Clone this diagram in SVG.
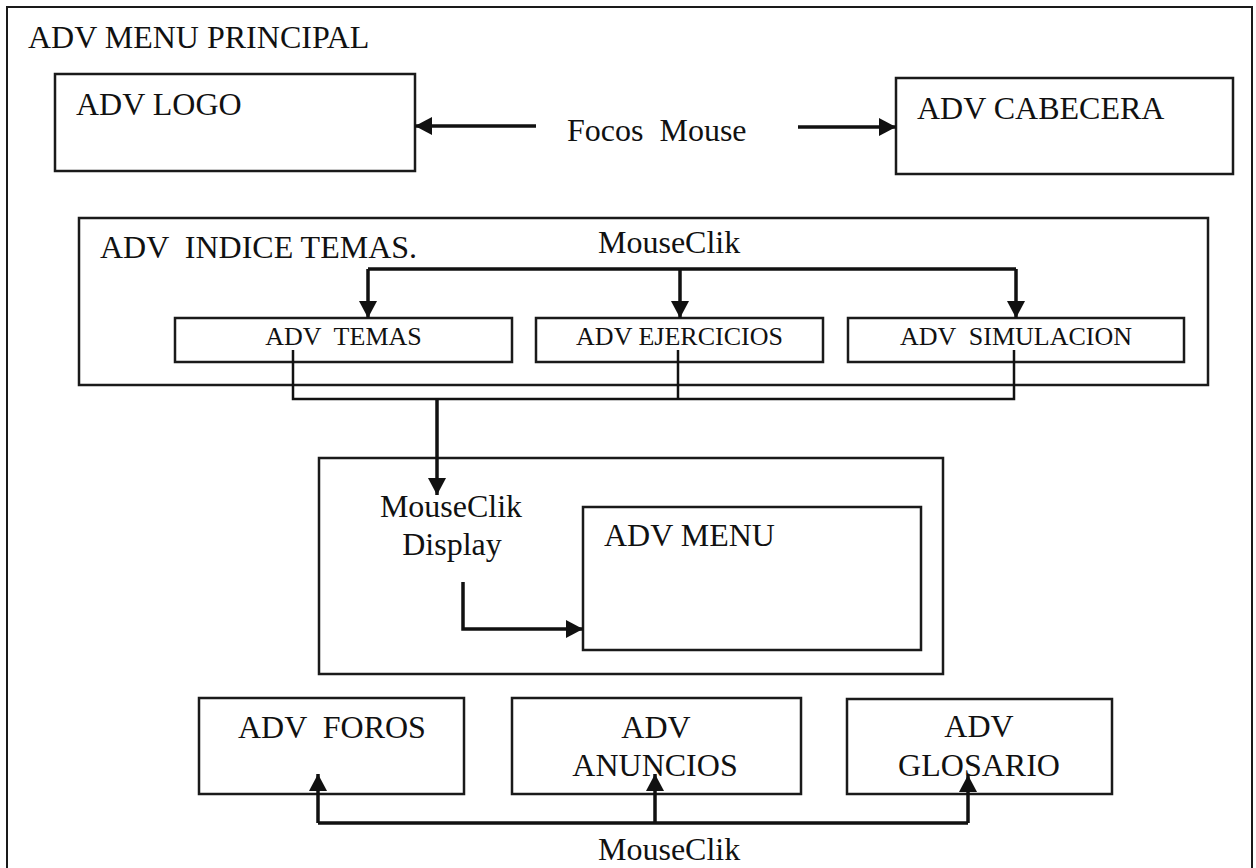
<svg xmlns="http://www.w3.org/2000/svg" width="1256" height="868" viewBox="0 0 1256 868">
  <style>
    .box { fill: none; stroke: #1a1a1a; stroke-width: 2.5; }
    .frame { fill: none; stroke: #1a1a1a; stroke-width: 2; }
    .lbl { font-family: "Liberation Serif", "Times New Roman", serif; font-size: 32px; fill: #111; white-space: pre; }
    .sub { font-family: "Liberation Serif", "Times New Roman", serif; font-size: 26px; fill: #111; white-space: pre; text-anchor: middle; }
    .mid { text-anchor: middle; }
    .wire { fill: none; stroke: #111; stroke-width: 3.5; }
    .thin { fill: none; stroke: #111; stroke-width: 2.5; }
    .arrow { fill: none; stroke: #111; stroke-width: 3.5; marker-end: url(#head); }
  </style>
  <defs>
    <marker id="head" markerUnits="userSpaceOnUse" markerWidth="18" markerHeight="18" refX="17" refY="9" orient="auto">
      <path d="M0,0 L17,9 L0,18 z" fill="#111"/>
    </marker>
  </defs>

  <rect width="1256" height="868" fill="#fff"/>

  <!-- main menu frame (open at the bottom) -->
  <g id="menu-principal">
    <path class="frame" d="M7,868 V7 H1252 V868"/>
    <text class="lbl" x="28" y="48">ADV MENU PRINCIPAL</text>
  </g>

  <g id="logo">
    <rect class="box" x="55" y="74" width="360" height="97"/>
    <text class="lbl" x="76" y="115">ADV LOGO</text>
  </g>

  <g id="cabecera">
    <rect class="box" x="896" y="78" width="337" height="96"/>
    <text class="lbl" x="917" y="119">ADV CABECERA</text>
  </g>

  <g id="focos-mouse">
    <text class="lbl" x="567" y="141">Focos  Mouse</text>
  </g>

  <g id="indice-temas">
    <rect class="box" x="79" y="218" width="1129" height="167"/>
    <text class="lbl" x="100" y="258">ADV  INDICE TEMAS.</text>
    <text class="lbl" x="598" y="253">MouseClik</text>
  </g>

  <g id="temas">
    <rect class="box" x="175" y="318" width="337" height="44"/>
    <text class="sub" x="343.5" y="345">ADV  TEMAS</text>
  </g>

  <g id="ejercicios">
    <rect class="box" x="536" y="318" width="287" height="44"/>
    <text class="sub" x="679.5" y="345">ADV EJERCICIOS</text>
  </g>

  <g id="simulacion">
    <rect class="box" x="848" y="318" width="336" height="44"/>
    <text class="sub" x="1016" y="345">ADV  SIMULACION</text>
  </g>

  <g id="display">
    <rect class="box" x="319" y="458" width="624" height="216"/>
    <text class="lbl mid" x="451" y="517">MouseClik</text>
    <text class="lbl mid" x="452" y="555">Display</text>
  </g>

  <g id="menu">
    <rect class="box" x="583" y="507" width="338" height="143"/>
    <text class="lbl" x="604" y="546">ADV MENU</text>
  </g>

  <g id="foros">
    <rect class="box" x="199" y="698" width="265" height="96"/>
    <text class="lbl" x="238" y="738">ADV  FOROS</text>
  </g>

  <g id="anuncios">
    <rect class="box" x="512" y="698" width="289" height="96"/>
    <text class="lbl mid" x="656" y="738">ADV</text>
    <text class="lbl mid" x="655" y="776">ANUNCIOS</text>
  </g>

  <g id="glosario">
    <rect class="box" x="847" y="699" width="265" height="95"/>
    <text class="lbl mid" x="979" y="737">ADV</text>
    <text class="lbl mid" x="979" y="776">GLOSARIO</text>
  </g>

  <g id="bottom-label">
    <text class="lbl" x="598" y="860">MouseClik</text>
  </g>

  <g id="connectors">
    <!-- mouse focus to logo and header -->
    <line class="arrow" x1="536" y1="126" x2="415" y2="126"/>
    <line class="arrow" x1="798" y1="127" x2="896" y2="127"/>

    <!-- click distribution into the topic index -->
    <path class="wire" d="M368,269 H1016"/>
    <line class="arrow" x1="368" y1="269" x2="368" y2="318"/>
    <line class="arrow" x1="680" y1="269" x2="680" y2="318"/>
    <line class="arrow" x1="1016" y1="269" x2="1016" y2="318"/>

    <!-- collection of the three sections -->
    <path class="thin" d="M293,350 V399 H1014 V350"/>
    <path class="thin" d="M678,350 V399"/>
    <line class="arrow" x1="437" y1="399" x2="437" y2="495"/>

    <!-- display into the menu -->
    <path class="arrow" d="M463,582 V629 H583"/>

    <!-- bottom click bar -->
    <path class="wire" d="M318,823 H968"/>
    <line class="arrow" x1="318" y1="823" x2="318" y2="774"/>
    <line class="arrow" x1="655" y1="823" x2="655" y2="774"/>
    <line class="arrow" x1="968" y1="823" x2="968" y2="775"/>
  </g>
</svg>
